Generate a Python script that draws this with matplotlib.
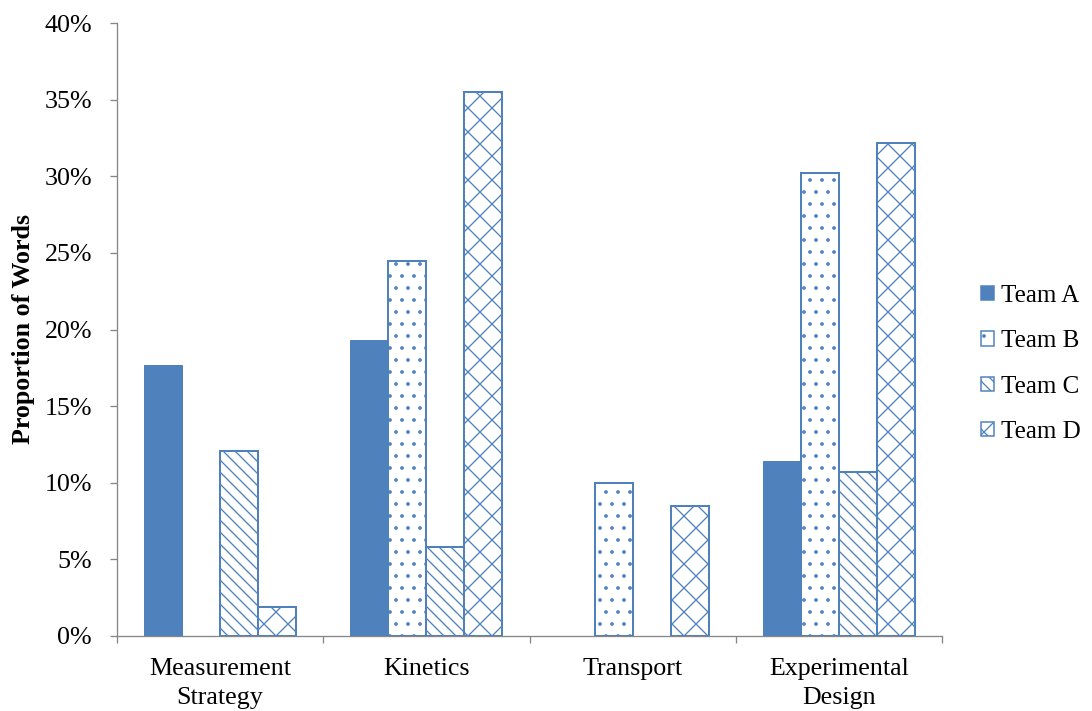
import numpy as np
import matplotlib
matplotlib.use("Agg")
import matplotlib.pyplot as plt
from matplotlib.ticker import FuncFormatter, FixedLocator

categories = ["Measurement\nStrategy", "Kinetics", "Transport", "Experimental\nDesign"]
teams = ["Team A", "Team B", "Team C", "Team D"]
team_a = [17.7, 19.3, 0.0, 11.4]
team_b = [0.0, 24.5, 10.0, 30.2]
team_c = [12.1, 5.8, 0.0, 10.7]
team_d = [1.9, 35.5, 8.5, 32.2]

blue = "#4F81BD"
hatches = [None, ".", "\\\\", "x"]

plt.rcParams["font.family"] = ["Liberation Serif", "DejaVu Serif"]
plt.rcParams["hatch.color"] = blue
plt.rcParams["hatch.linewidth"] = 1.3

# 72 dpi keeps the hatch spacing close to the spreadsheet look (1 pt = 1 px)
fig = plt.figure(figsize=(1092 / 72, 711 / 72), dpi=72)
ax = fig.add_axes([117 / 1092, 75 / 711, 825 / 1092, 613 / 711])

x = np.arange(len(categories))
w = 0.184
for i, (vals, name, h) in enumerate(zip([team_a, team_b, team_c, team_d], teams, hatches)):
    offs = (i - 1.5) * w
    # no outline for empty bars, so nothing sits on the axis line
    lw = [(1 if h is None else 2) if v > 0 else 0 for v in vals]
    if h is None:
        ax.bar(x + offs, vals, w, color=blue, edgecolor=blue, linewidth=lw, label=name)
    else:
        ax.bar(x + offs, vals, w, facecolor="white", edgecolor=blue, hatch=h,
               linewidth=lw, label=name)

ax.set_xlim(-0.5, 3.5)
ax.set_ylim(0, 40)
ax.set_yticks(np.arange(0, 41, 5))
ax.yaxis.set_major_formatter(FuncFormatter(lambda v, p: f"{v:.0f}%"))
ax.set_xticks(x)
ax.set_xticklabels(categories, fontsize=26, linespacing=1.4)
ax.xaxis.set_minor_locator(FixedLocator(np.arange(-0.5, 3.6, 1)))
ax.tick_params(axis="x", which="major", length=0, pad=22)
ax.tick_params(axis="x", which="minor", length=7, width=1.3, color="#868686")
ax.tick_params(axis="y", length=7, width=1.3, color="#868686", labelsize=26, pad=18)

for s in ["top", "right"]:
    ax.spines[s].set_visible(False)
for s in ["left", "bottom"]:
    ax.spines[s].set_color("#868686")
    ax.spines[s].set_linewidth(1.3)

ax.set_ylabel("Proportion of Words", fontsize=26, fontweight="bold", labelpad=9)

leg = fig.legend(loc="center left", bbox_to_anchor=(981 / 1092, 1 - 364 / 711),
                 frameon=False, fontsize=25, handlelength=0.5, handleheight=0.5,
                 handletextpad=0.3, labelspacing=0.93, borderpad=0, borderaxespad=0)
for hnd in leg.legend_handles:
    hnd.set_linewidth(1.5)

fig.savefig("out.png", dpi=72)
